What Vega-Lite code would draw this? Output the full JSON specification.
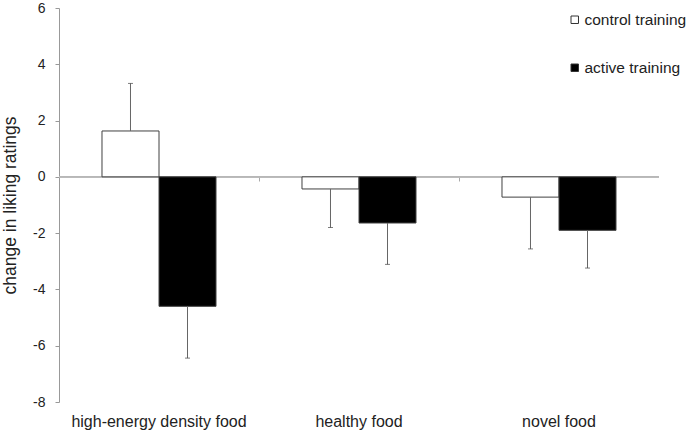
{
  "$schema": "https://vega.github.io/schema/vega-lite/v6.json",
  "autosize": "none",
  "width": 600,
  "height": 394,
  "padding": {"left": 59, "top": 8, "right": 29, "bottom": 29},
  "background": "white",
  "config": {
    "view": {"stroke": null},
    "font": "Liberation Sans",
    "axis": {"labelFont": "Liberation Sans", "titleFont": "Liberation Sans", "grid": false}
  },
  "data": {
    "values": [
      {"food": "high-energy density food", "group": "control training", "value": 1.63, "err": 3.32},
      {"food": "high-energy density food", "group": "active training", "value": -4.6, "err": -6.44},
      {"food": "healthy food", "group": "control training", "value": -0.43, "err": -1.8},
      {"food": "healthy food", "group": "active training", "value": -1.64, "err": -3.11},
      {"food": "novel food", "group": "control training", "value": -0.72, "err": -2.56},
      {"food": "novel food", "group": "active training", "value": -1.9, "err": -3.24}
    ]
  },
  "encoding": {
    "x": {
      "field": "food", "type": "nominal", "sort": null,
      "scale": {"paddingInner": 0, "paddingOuter": 0},
      "axis": {
        "title": null, "labelAngle": 0, "domain": false,
        "ticks": true, "bandPosition": 0, "tickSize": 4, "tickColor": "#aaaaaa",
        "offset": -225, "labelPadding": 232,
        "labelFontSize": 16, "labelColor": "#222222"
      }
    },
    "xOffset": {
      "field": "group", "type": "nominal", "sort": ["control training", "active training"],
      "scale": {"paddingInner": 0, "paddingOuter": 0.754}
    }
  },
  "layer": [
    {
      "mark": {"type": "rule", "color": "#b8b8b8", "strokeWidth": 1},
      "encoding": {"y": {"datum": 0, "type": "quantitative"}, "x": null, "xOffset": null}
    },
    {
      "mark": {"type": "bar", "stroke": "#404040", "strokeWidth": 1},
      "encoding": {
        "y": {
          "field": "value", "type": "quantitative",
          "scale": {"domain": [-8, 6], "nice": false, "zero": false},
          "axis": {
            "values": [-8, -6, -4, -2, 0, 2, 4, 6],
            "labelExpr": "replace(datum.label, '\u2212', '-')",
            "title": "change in liking ratings",
            "titleFontSize": 17.5, "titleFontWeight": "normal", "titleColor": "#222222",
            "titlePadding": 13,
            "labelFontSize": 14, "labelColor": "#222222", "labelPadding": 10,
            "domainColor": "#999999", "tickColor": "#999999", "tickSize": 4
          }
        },
        "fill": {
          "field": "group", "type": "nominal",
          "scale": {"domain": ["control training", "active training"], "range": ["white", "black"]},
          "legend": {
            "title": null, "orient": "none", "legendX": 508, "legendY": 4,
            "symbolType": "square", "symbolSize": 56, "symbolStrokeColor": "#333333",
            "symbolStrokeWidth": 1, "labelFontSize": 15.5, "labelColor": "#222222",
            "rowPadding": 31, "labelOffset": 2
          }
        }
      }
    },
    {
      "mark": {"type": "rule", "color": "#666666", "strokeWidth": 1},
      "encoding": {
        "y": {"field": "value", "type": "quantitative"},
        "y2": {"field": "err"}
      }
    },
    {
      "mark": {"type": "tick", "orient": "horizontal", "color": "#444444", "thickness": 1, "size": 5},
      "encoding": {
        "y": {"field": "err", "type": "quantitative"}
      }
    }
  ]
}
